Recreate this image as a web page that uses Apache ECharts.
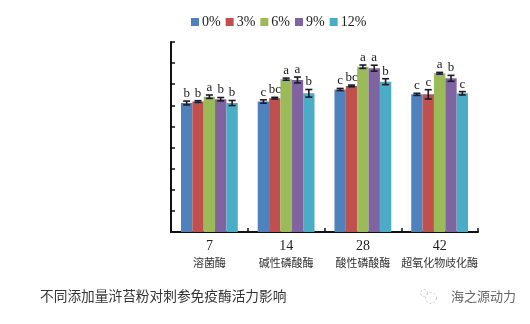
<!DOCTYPE html>
<html>
<head>
<meta charset="utf-8">
<script src="https://cdn.jsdelivr.net/npm/echarts@6/dist/echarts.min.js"></script>
<style>
  html, body { margin: 0; padding: 0; background: #fff; }
  #chart { width: 530px; height: 324px; }
</style>
</head>
<body>
<div id="chart"></div>
<script>
// Days and enzyme names shown under each group
const days = ['7', '14', '28', '42'];
const enzymes = ['溶菌酶', '碱性磷酸酶', '酸性磷酸酶', '超氧化物歧化酶'];

// Dose levels of Enteromorpha powder
const levels = ['0%', '3%', '6%', '9%', '12%'];
const colors = ['#4F81BD', '#C0504D', '#9BBB59', '#8064A2', '#4BACC6'];

// Mean enzyme activity per level (one entry per group)
const v0  = [6.11, 6.18, 6.75, 6.52];
const v3  = [6.18, 6.34, 6.92, 6.52];
const v6  = [6.41, 7.24, 7.83, 7.52];
const v9  = [6.29, 7.20, 7.76, 7.28];
const v12 = [6.11, 6.57, 7.12, 6.57];

// Standard errors
const e0  = [0.09, 0.08, 0.05, 0.05];
const e3  = [0.04, 0.04, 0.04, 0.22];
const e6  = [0.08, 0.05, 0.08, 0.04];
const e9  = [0.08, 0.14, 0.14, 0.14];
const e12 = [0.12, 0.18, 0.14, 0.08];

// Significance letters
const s0  = ['b', 'c', 'c', 'c'];
const s3  = ['b', 'bc', 'bc', 'c'];
const s6  = ['a', 'a', 'a', 'a'];
const s9  = ['b', 'a', 'a', 'b'];
const s12 = ['b', 'b', 'b', 'c'];

const values = [v0, v3, v6, v9, v12];
const errors = [e0, e3, e6, e9, e12];
const letters = [s0, s3, s6, s9, s12];

const CAT_GAP = 0.26;   // fraction of band left empty
const N = levels.length;

const chart = echarts.init(document.getElementById('chart'), null, { renderer: 'canvas' });

const series = [];
levels.forEach(function (name, k) {
  series.push({
    name: name,
    type: 'bar',
    data: values[k],
    barGap: '0%',
    barCategoryGap: (CAT_GAP * 100) + '%',
    itemStyle: { color: colors[k] },
    z: 2
  });
});
levels.forEach(function (name, k) {
  series.push({
    type: 'custom',
    data: values[k].map(function (v, i) { return [i, v, errors[k][i]]; }),
    z: 5,
    silent: true,
    renderItem: function (params, api) {
      const i = api.value(0);
      const v = api.value(1);
      const e = api.value(2);
      const band = api.size([1, 0])[0];
      const barW = band * (1 - CAT_GAP) / N;
      const c = api.coord([i, v]);
      const x = c[0] - band * (1 - CAT_GAP) / 2 + (k + 0.5) * barW;
      const top = api.coord([i, v + e])[1];
      const bot = api.coord([i, v - e])[1];
      const cap = 3.5;
      const stroke = { stroke: '#1a1a2a', lineWidth: 1.6 };
      return {
        type: 'group',
        children: [
          { type: 'line', shape: { x1: x, y1: top, x2: x, y2: bot }, style: stroke },
          { type: 'line', shape: { x1: x - cap, y1: top, x2: x + cap, y2: top }, style: stroke },
          { type: 'line', shape: { x1: x - cap, y1: bot, x2: x + cap, y2: bot }, style: stroke },
          {
            type: 'text',
            style: {
              x: x, y: top - 1,
              text: letters[k][i],
              align: 'center', verticalAlign: 'bottom',
              fontFamily: 'Liberation Serif', fontSize: 13,
              fill: '#222'
            }
          }
        ]
      };
    }
  });
});

chart.setOption({
  animation: false,
  backgroundColor: '#fff',
  color: colors,
  legend: {
    data: levels,
    left: 186,
    top: 10,
    itemWidth: 8,
    itemHeight: 8,
    itemGap: 5,
    icon: 'rect',
    textStyle: { fontFamily: 'Liberation Serif', fontSize: 14, color: '#222', padding: [0, 0, 0, -2] }
  },
  grid: { left: 171, right: 52, top: 42, bottom: 92 },
  xAxis: {
    type: 'category',
    data: days,
    axisLine: { lineStyle: { color: '#111', width: 2 } },
    axisTick: { show: true, inside: true, length: 4, lineStyle: { color: '#111', width: 1.5 } },
    axisLabel: {
      interval: 0,
      hideOverlap: false,
      margin: 5,
      formatter: function (val, idx) { return '{d|' + val + '}\n{n|' + enzymes[idx] + '}'; },
      rich: {
        d: { fontFamily: 'Liberation Serif', fontSize: 14, color: '#222', lineHeight: 18 },
        n: { fontFamily: 'Noto Sans CJK SC', fontSize: 11, color: '#333', lineHeight: 16 }
      }
    }
  },
  yAxis: {
    type: 'value',
    min: 0,
    max: 9,
    interval: 1,
    axisLine: { show: true, lineStyle: { color: '#111', width: 2 } },
    axisTick: { show: true, inside: true, length: 4, lineStyle: { color: '#111', width: 1.5 } },
    axisLabel: { show: false },
    splitLine: { show: false }
  },
  graphic: [
    {
      type: 'text', left: 40, top: 289,
      style: { text: '不同添加量浒苔粉对刺参免疫酶活力影响', fontFamily: 'Noto Sans CJK SC', fontSize: 13.7, fill: '#333' }
    },
    {
      type: 'circle', shape: { cx: 431, cy: 298, r: 5.5 },
      style: { fill: 'none', stroke: '#c8c8c8', lineWidth: 1, lineDash: [2, 2] }
    },
    {
      type: 'circle', shape: { cx: 424, cy: 293, r: 3.5 },
      style: { fill: 'none', stroke: '#d0d0d0', lineWidth: 1, lineDash: [2, 2] }
    },
    {
      type: 'text', left: 451, top: 290,
      style: { text: '海之源动力', fontFamily: 'Noto Sans CJK SC', fontSize: 13, fill: '#666' }
    }
  ],
  series: series
});
</script>
</body>
</html>
